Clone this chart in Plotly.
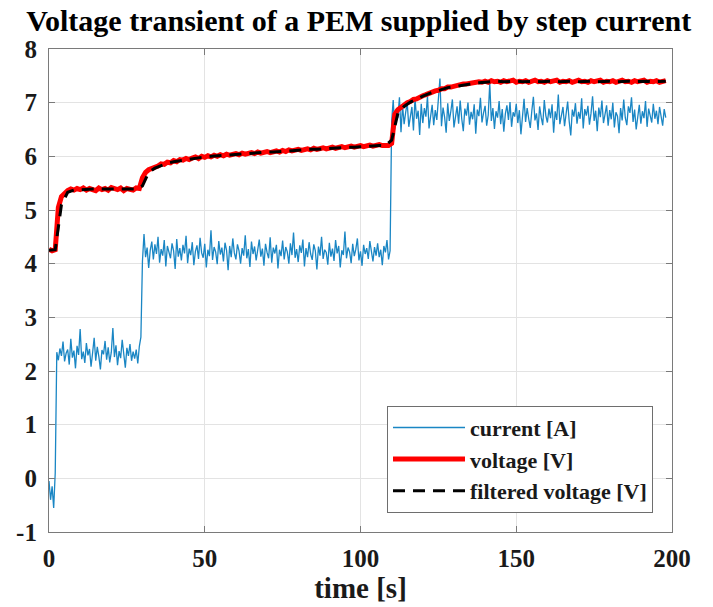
import numpy as np
import plotly.graph_objects as go

# ---------------- data ----------------
# current sampled every 0.5 s from 0 s
current_low = [-0.05, -0.40, -0.15, -0.55, 0.10]
current_step1 = [
    2.35, 2.20, 2.42, 2.28, 2.55, 2.18, 2.33, 2.40, 2.12, 2.60,
    2.25, 2.38, 2.05, 2.47, 2.30, 2.78, 2.22, 2.36, 2.15, 2.52,
    2.29, 2.41, 2.08, 2.34, 2.62, 2.19, 2.45, 2.27, 2.03, 2.39,
    2.31, 2.56, 2.21, 2.44, 2.16, 2.35, 2.80, 2.26, 2.48, 2.11,
    2.37, 2.24, 2.58, 2.32, 2.06, 2.43, 2.28, 2.50, 2.19, 2.36,
    2.23, 2.40, 2.14, 2.46, 2.63]
current_step2 = [
    4.05, 4.55, 4.12, 4.30, 3.92, 4.25, 4.41, 4.08, 4.36, 4.18,
    4.50, 4.02, 4.27, 4.15, 4.44, 3.95, 4.33, 4.21, 4.10, 4.38,
    4.24, 3.90, 4.46, 4.13, 4.29, 4.06, 4.35, 4.19, 4.52, 4.01,
    4.28, 4.16, 4.40, 3.97, 4.23, 4.34, 4.09, 4.48, 4.20, 4.11,
    4.37, 3.93, 4.26, 4.14, 4.62, 4.07, 4.31, 4.22, 3.99, 4.42,
    4.17, 4.30, 4.04, 4.39, 4.25, 3.88, 4.33, 4.12, 4.47, 4.20,
    4.08, 4.36, 4.24, 4.00, 4.29, 4.15, 4.53, 4.10, 4.27, 3.94,
    4.41, 4.18, 4.32, 4.06, 4.23, 4.45, 4.13, 4.28, 3.96, 4.37,
    4.21, 4.10, 4.49, 4.02, 4.30, 4.19, 4.35, 3.91, 4.26, 4.14,
    4.43, 4.08, 4.31, 4.22, 4.00, 4.38, 4.16, 4.58, 4.11, 4.27,
    4.03, 4.34, 4.20, 4.45, 3.95, 4.29, 4.12, 4.40, 4.18, 4.07,
    4.36, 4.24, 3.89, 4.32, 4.15, 4.50, 4.09, 4.26, 4.21, 3.98,
    4.39, 4.13, 4.28, 4.05, 4.44, 4.19, 4.33, 3.93, 4.25, 4.16,
    4.60, 4.10, 4.30, 4.22, 4.01, 4.37, 4.14, 4.27, 4.47, 4.06,
    4.23, 3.96, 4.35, 4.18, 4.29, 4.09, 4.42, 4.20, 4.04, 4.31,
    4.15, 4.38, 4.12, 4.26, 3.97, 4.33, 4.21, 4.44, 4.08, 4.24]
current_step3 = [
    6.65, 7.05, 6.50, 6.88, 6.72, 7.10, 6.45, 6.95, 6.60, 6.82,
    7.00, 6.55, 6.78, 6.92, 6.48, 7.08, 6.70, 6.85, 6.40, 6.98,
    6.62, 6.90, 6.74, 7.12, 6.52, 6.80, 6.96, 6.58, 6.86, 6.68,
    7.02, 7.45, 6.56, 6.91, 6.73, 6.44, 6.99, 6.66, 6.84, 7.06,
    6.54, 6.79, 6.93, 6.61, 7.04, 6.70, 6.47, 6.89, 6.76, 7.00,
    6.59, 6.83, 6.69, 6.97, 6.42, 6.87, 6.75, 7.09, 6.63, 6.81,
    6.94, 6.57, 6.77, 7.36, 6.66, 6.90, 6.51, 6.84, 6.72, 7.03,
    6.60, 6.88, 6.46, 6.79, 6.95, 6.68, 7.01, 6.55, 6.82, 6.74,
    6.98, 6.62, 6.86, 6.41, 6.77, 7.07, 6.64, 6.90, 6.70, 6.53,
    6.85, 7.11, 6.67, 6.80, 6.49, 6.93, 6.73, 6.58, 7.05, 6.76,
    6.63, 6.89, 6.71, 6.97, 6.44, 6.84, 6.68, 7.15, 6.60, 6.81,
    6.92, 6.56, 6.78, 7.02, 6.65, 6.39, 6.87, 6.74, 6.99, 6.61,
    6.83, 6.70, 7.08, 6.52, 6.88, 6.76, 6.94, 6.59, 6.80, 7.12,
    6.66, 6.85, 6.47, 6.91, 6.73, 7.04, 6.62, 6.79, 6.95, 6.57,
    6.86, 6.69, 7.00, 6.54, 6.82, 6.75, 6.43, 6.90, 6.67, 7.06,
    6.72, 6.58, 6.93, 6.81, 7.10, 6.64, 6.87, 6.50, 6.78, 6.96,
    6.61, 6.84, 6.71, 7.03, 6.55, 6.89, 6.76, 6.63, 6.98, 6.70,
    6.85, 6.60, 6.92, 6.74, 6.57, 6.88, 6.72]

# voltage sampled every 1 s from 0 s
voltage_vals = [
    4.27, 4.24, 4.26,
    5.05, 5.25, 5.32, 5.36, 5.39, 5.37, 5.40, 5.38, 5.41, 5.37,
    5.40, 5.39, 5.36, 5.41, 5.38, 5.40, 5.37, 5.42, 5.39, 5.38,
    5.41, 5.36, 5.40, 5.39, 5.37, 5.41, 5.40,
    5.60, 5.70, 5.75, 5.77, 5.81, 5.82, 5.86, 5.85, 5.89, 5.88,
    5.92, 5.90, 5.94, 5.93, 5.96, 5.94, 5.97, 5.99, 5.96, 6.00,
    5.98, 6.01, 5.99, 6.02, 6.00, 6.03, 6.01, 6.04, 6.02, 6.03,
    6.05, 6.03, 6.06, 6.04, 6.05, 6.07, 6.05, 6.08, 6.06, 6.07,
    6.09, 6.07, 6.08, 6.10, 6.08, 6.11, 6.09, 6.12, 6.10, 6.11,
    6.13, 6.11, 6.12, 6.14, 6.12, 6.15, 6.13, 6.14, 6.16, 6.14,
    6.15, 6.17, 6.15, 6.16, 6.18, 6.16, 6.17, 6.19, 6.17, 6.18,
    6.20, 6.18, 6.19, 6.21, 6.19, 6.20, 6.22, 6.20, 6.21, 6.20,
    6.24, 6.78, 6.87, 6.92, 6.96, 7.00, 7.02, 7.06, 7.07, 7.11,
    7.13, 7.15, 7.18, 7.19, 7.22, 7.23, 7.26, 7.26, 7.29, 7.29,
    7.31, 7.32, 7.33, 7.35, 7.35, 7.36, 7.38, 7.37, 7.39, 7.38,
    7.40, 7.38, 7.41, 7.39, 7.40, 7.38, 7.41, 7.39, 7.40, 7.42,
    7.38, 7.40, 7.39, 7.41, 7.38, 7.40, 7.42, 7.39, 7.40, 7.38,
    7.41, 7.39, 7.40, 7.42, 7.38, 7.40, 7.39, 7.41, 7.38, 7.40,
    7.42, 7.39, 7.40, 7.38, 7.41, 7.39, 7.40, 7.42, 7.38, 7.40,
    7.39, 7.41, 7.38, 7.40, 7.42, 7.39, 7.40, 7.38, 7.41, 7.39,
    7.40, 7.42, 7.38, 7.40, 7.39, 7.41, 7.38, 7.40, 7.41]

# filtered voltage sampled every 2 s from 0 s
filtered_vals = [
    4.25, 4.26, 5.10, 5.33, 5.37,
    5.38, 5.39, 5.39, 5.39, 5.39, 5.39, 5.39, 5.39, 5.39, 5.39,
    5.45, 5.70, 5.78, 5.83, 5.87, 5.90, 5.92, 5.94, 5.96, 5.97,
    5.99, 6.00, 6.01, 6.02, 6.03, 6.04, 6.05, 6.05, 6.06, 6.07,
    6.08, 6.08, 6.09, 6.10, 6.10, 6.11, 6.12, 6.13, 6.13, 6.14,
    6.15, 6.15, 6.16, 6.17, 6.17, 6.18, 6.19, 6.19, 6.20, 6.20,
    6.30, 6.80, 6.93, 7.01, 7.07, 7.12, 7.17, 7.21, 7.25, 7.28,
    7.30, 7.32, 7.34, 7.36, 7.37, 7.38,
    7.39, 7.40, 7.39, 7.40, 7.40, 7.39, 7.40, 7.40, 7.39, 7.40,
    7.40, 7.39, 7.40, 7.40, 7.39, 7.40, 7.40, 7.39, 7.40, 7.40,
    7.39, 7.40, 7.40, 7.39, 7.40, 7.40, 7.39, 7.40, 7.40]

current_vals = current_low + current_step1 + current_step2 + current_step3
t_current = np.arange(len(current_vals)) * 0.5
t_voltage = np.arange(len(voltage_vals)) * 1.0
t_filtered = np.arange(len(filtered_vals)) * 2.0

x_ticks = [0, 50, 100, 150, 200]
x_ticklabels = ["0", "50", "100", "150", "200"]
y_ticks = [-1, 0, 1, 2, 3, 4, 5, 6, 7, 8]
y_ticklabels = ["-1", "0", "1", "2", "3", "4", "5", "6", "7", "8"]

title_text = "Voltage transient of a PEM supplied by step current"
x_label = "time [s]"
names = ["current [A]", "voltage [V]", "filtered voltage [V]"]

# ---------------- figure ----------------
FONT = "Liberation Serif, Times New Roman, serif"

fig = go.Figure()
fig.add_trace(go.Scatter(x=t_current, y=current_vals, mode="lines",
                         name="<b>%s</b>" % names[0],
                         line=dict(color="#1a86c4", width=1.3)))
fig.add_trace(go.Scatter(x=t_voltage, y=voltage_vals, mode="lines",
                         name="<b>%s</b>" % names[1],
                         line=dict(color="#ff0000", width=5)))
fig.add_trace(go.Scatter(x=t_filtered, y=filtered_vals, mode="lines",
                         name="<b>%s</b>" % names[2],
                         line=dict(color="#000000", width=3, dash="12px,8px")))

axis_common = dict(
    showline=True, linecolor="#7a7a7a", linewidth=1.2, mirror="ticks",
    ticks="inside", ticklen=6, tickcolor="#7a7a7a", tickwidth=1,
    showgrid=True, gridcolor="#e3e3e3", gridwidth=1, zeroline=False,
    tickfont=dict(family=FONT, size=25, color="#1a1a1a", weight="bold"),
)

fig.update_layout(
    width=713, height=607,
    margin=dict(l=49, r=41, t=49, b=75),
    paper_bgcolor="white", plot_bgcolor="white",
    title=dict(text="<b>%s</b>" % title_text, x=0.503, xanchor="center",
               y=0.967, yanchor="middle",
               font=dict(family=FONT, size=30, color="black")),
    xaxis=dict(range=[0, 200], tickvals=x_ticks, ticktext=x_ticklabels,
               ticklabelstandoff=4,
               title=dict(text="<b>%s</b>" % x_label, standoff=2,
                          font=dict(family=FONT, size=29, color="#1a1a1a")),
               **axis_common),
    yaxis=dict(range=[-1, 8], tickvals=y_ticks, ticktext=y_ticklabels,
               ticklabelstandoff=6,
               **axis_common),
    legend=dict(x=0.9695, y=0.04, xanchor="right", yanchor="bottom",
                bgcolor="white", bordercolor="#6e6e6e", borderwidth=1,
                font=dict(family=FONT, size=22, color="#1a1a1a"),
                itemwidth=72, tracegroupgap=0),
    showlegend=True,
)

fig.write_html("out.html")
